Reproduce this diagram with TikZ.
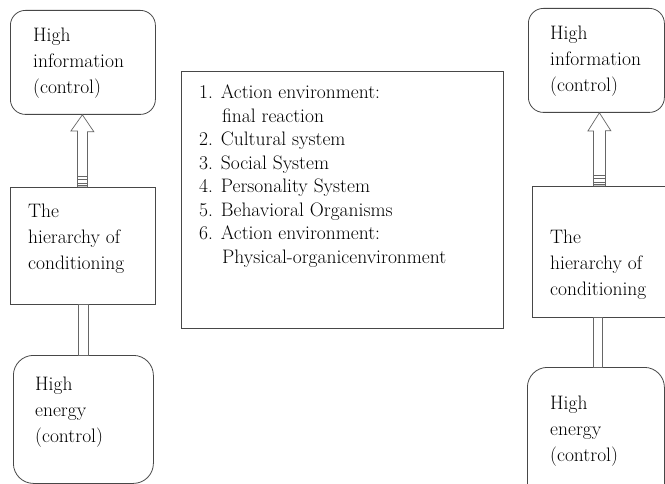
\documentclass[tikz,border=0pt]{standalone}
\usetikzlibrary{calc}
\begin{document}
\begin{tikzpicture}[x=1pt,y=-1pt,
  linec/.style={draw=black!72},
  rbox/.style={linec, line width=0.8pt, rounded corners=15pt, anchor=north west, inner sep=0pt},
  sbox/.style={linec, line width=0.8pt, anchor=north west, inner sep=0pt},
  txt/.style={anchor=north west, align=left, inner sep=0pt, font=\fontsize{19.5}{26}\selectfont},
  ltxt/.style={anchor=north west, align=left, inner sep=0pt, font=\fontsize{19.5}{23.5}\selectfont},
  arr/.style={draw=black!60, line width=0.7pt, fill=white},
  stripe/.style={draw=black!60, line width=0.6pt}]
\useasboundingbox (0,0) rectangle (665,484);
\clip (0,0) rectangle (665,484);
% left column
\node[rbox, minimum width=145pt, minimum height=104pt] (lt) at (10,10) {};
\node[sbox, minimum width=145pt, minimum height=117pt] (lm) at (10,187) {};
\node[rbox, rounded corners=20pt, minimum width=140pt, minimum height=128pt] (lb) at (13,355) {};
\node[txt] (ltt) at (33,28) {High\\information\\(control)};
\node[txt] (lmt) at (28,204) {The\\hierarchy of\\conditioning};
\node[txt] (lbt) at (35,377) {High\\energy\\(control)};
% list box
\node[sbox, minimum width=322pt, minimum height=257pt] (list) at (181,71) {};
\node[ltxt] (listt) at (199,85) {1. Action environment:\\
\hspace*{23pt}final reaction\\
2. Cultural system\\
3. Social System\\
4. Personality System\\
5. Behavioral Organisms\\
6. Action environment:\\
\hspace*{23pt}Physical-organicenvironment};
% right column
\node[rbox, minimum width=136pt, minimum height=104pt] (rt) at (528,8) {};
\node[sbox, minimum width=145pt, minimum height=131pt] (rm) at (532,186) {};
\node[rbox, rounded corners=20pt, minimum width=137pt, minimum height=140pt] (rb) at (527,367) {};
\node[txt] (rtt) at (550,26) {High\\information\\(control)};
\node[txt] (rmt) at (550,230) {The\\hierarchy of\\conditioning};
\node[txt] (rbt) at (550,396) {High\\energy\\(control)};
% left arrow
\coordinate (lT) at ([xshift=-0.5pt]lt.south);
\coordinate (lB) at (lm.north -| lT);
\path[arr] (lT) -- ++(11.5,17) -- ++(-6.5,0) -- ([xshift=5pt]lB) -- ([xshift=-5pt]lB) -- ++(0,-56) -- ++(-6.5,0) -- cycle;
\foreach \d in {11,7.5,4,1.5}
  \draw[stripe] ([shift={(-5,-\d)}]lB) -- ([shift={(5,-\d)}]lB);
\draw[arr] ([xshift=-4.5pt]lm.south) rectangle ([xshift=4.5pt]lb.north);
% right arrow
\coordinate (rT) at ([xshift=3pt]rt.south);
\coordinate (rB) at (rm.north -| rT);
\path[arr] (rT) -- ++(11.5,18) -- ++(-5.5,0) -- ([xshift=6pt]rB) -- ([xshift=-6pt]rB) -- ++(0,-55) -- ++(-5.5,0) -- cycle;
\foreach \d in {11,7.5,4,1.5}
  \draw[stripe] ([shift={(-6,-\d)}]rB) -- ([shift={(6,-\d)}]rB);
\coordinate (rC) at (597.5,0);
\coordinate (rC1) at (rm.south -| rC);
\coordinate (rC2) at (rb.north -| rC);
\draw[arr] ([xshift=-4.5pt]rC1) rectangle ([xshift=4.5pt]rC2);
\end{tikzpicture}
\end{document}
